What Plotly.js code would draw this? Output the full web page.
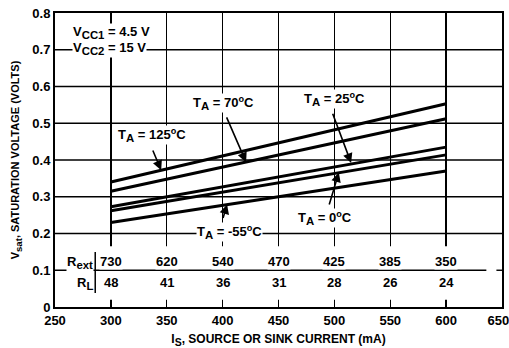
<!DOCTYPE html>
<html><head><meta charset="utf-8">
<script src="https://cdn.plot.ly/plotly-3.0.1.min.js"></script>
<style>body{margin:0;background:#fff}#c{width:509px;height:348px}</style>
</head><body><div id="c"></div>
<script>
const currentMA = [300, 600];
const seriesNames = ["125°C", "70°C", "25°C", "0°C", "-55°C"];
const v125 = [0.340, 0.553];
const v70 = [0.315, 0.512];
const v25 = [0.273, 0.435];
const v0 = [0.262, 0.414];
const vm55 = [0.230, 0.370];
const tableX = [300, 350, 400, 450, 500, 550, 600];
const rExt = ["730", "620", "540", "470", "425", "385", "350"];
const rL = ["48", "41", "36", "31", "28", "26", "24"];
const xTicks = [250, 300, 350, 400, 450, 500, 550, 600, 650];
const yTicks = [0, 0.1, 0.2, 0.3, 0.4, 0.5, 0.6, 0.7, 0.8];

const FONT = "Liberation Sans, Arial, sans-serif";
const allSeries = [v125, v70, v25, v0, vm55];
const traces = allSeries.map((v, i) => ({
  x: currentMA, y: v, type: "scatter", mode: "lines", name: seriesNames[i],
  line: {color: "#000", width: 3}, showlegend: false, hoverinfo: "skip"
}));

const shapes = [];
shapes.push({type: "rect", xref: "x", yref: "y", x0: 251, x1: 649, y0: 0.02, y1: 0.165,
  fillcolor: "#fff", line: {width: 0}, layer: "between"});
yTicks.forEach(y => {
  if (y === 0 || y === 0.8) return;
  shapes.push({type: "line", xref: "x", yref: "y", x0: 250, x1: y === 0.1 ? 636 : 650, y0: y, y1: y,
    line: {color: "#000", width: 1.4}, layer: "between"});
});
shapes.push({type: "line", xref: "x", yref: "y", x0: 645, x1: 650, y0: 0.1, y1: 0.1, line: {color: "#000", width: 1.4}, layer: "between"});
shapes.push({type: "line", xref: "x", yref: "y", x0: 286, x1: 286, y0: 0.038, y1: 0.15, line: {color: "#000", width: 1.5}, layer: "between"});

const SUB = t => "<sub><span style='font-size:125%'>" + t + "</span></sub>";
const tf = {family: FONT, size: 13, color: "#000", weight: "bold"};
const ann = [];
function label(text, x, y, xanchor) {
  ann.push({text, x, y, xref: "x", yref: "y", showarrow: false, font: tf,
    bgcolor: "#fff", xanchor: xanchor || "center", yanchor: "middle", borderpad: 0});
}
function arrow(xt, yt, xs, ys) {
  ann.push({text: "", x: xt, y: yt, ax: xs, ay: ys, xref: "x", yref: "y", axref: "x", ayref: "y",
    showarrow: true, arrowhead: 2, arrowsize: 1.2, arrowwidth: 1.6, arrowcolor: "#000"});
}
label("V" + SUB("CC1") + " = 4.5 V", 265, 0.747, "left");
label("V" + SUB("CC2") + " = 15 V", 265, 0.704, "left");
label("T" + SUB("A") + " = 125<sup>o</sup>C", 337, 0.468);
label("T" + SUB("A") + " = 70<sup>o</sup>C", 401, 0.555);
label("T" + SUB("A") + " = 25<sup>o</sup>C", 500, 0.565);
label("T" + SUB("A") + " = 0<sup>o</sup>C", 492, 0.242);
label("T" + SUB("A") + " = -55<sup>o</sup>C", 406, 0.203);
arrow(345, 0.372, 337, 0.43);
arrow(421, 0.394, 403, 0.52);
arrow(515, 0.392, 498, 0.53);
arrow(504, 0.366, 495, 0.275);
arrow(404, 0.279, 400, 0.238);
label("R" + SUB("ext"), 272, 0.122);
label("R" + SUB("L"), 277, 0.065);
tableX.forEach((x, i) => {
  label(rExt[i], x, 0.123);
  label(rL[i], x, 0.066);
});

const layout = {
  width: 509, height: 348,
  margin: {l: 55, r: 7, t: 13, b: 41},
  paper_bgcolor: "#fff", plot_bgcolor: "#fff",
  font: {family: FONT, color: "#000", size: 13, weight: "bold"},
  xaxis: {range: [250, 650], tickvals: xTicks, ticktext: xTicks.map(v => v === 650 ? "650\u00a0\u00a0" : String(v)),
    showgrid: true, gridcolor: "#000", gridwidth: 1.4,
    zeroline: false, showline: true, linecolor: "#000", linewidth: 2, mirror: true, ticks: "", ticklabeloverflow: "allow",
    tickfont: {size: 13, family: FONT, weight: "bold"},
    title: {text: "I" + SUB("S") + ", SOURCE OR SINK CURRENT (mA)", font: {size: 12, family: FONT, weight: "bold"}, standoff: 18}},
  yaxis: {range: [0, 0.8], tickvals: yTicks, ticktext: yTicks.map(v => v === 0 ? "0" : v.toFixed(1)), showgrid: false, zeroline: false,
    showline: true, linecolor: "#000", linewidth: 2, mirror: true, ticks: "", tickfont: {size: 13, family: FONT, weight: "bold"},
    title: {text: "V" + SUB("sat") + ", SATURATION VOLTAGE (VOLTS)", font: {size: 11, family: FONT, weight: "bold"}, standoff: 10}},
  shapes, annotations: ann
};
Plotly.newPlot("c", traces, layout, {displayModeBar: false, staticPlot: true});
</script></body></html>
